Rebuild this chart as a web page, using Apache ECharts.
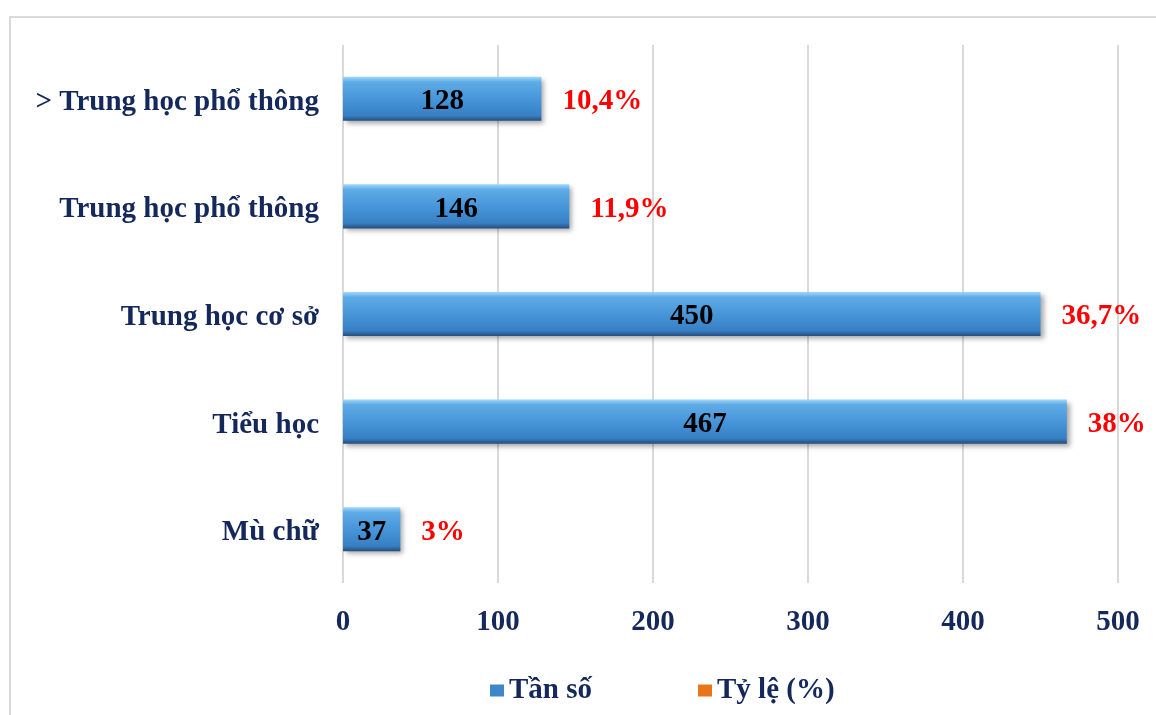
<!DOCTYPE html>
<html>
<head>
<meta charset="utf-8">
<script src="https://cdn.jsdelivr.net/npm/echarts@6/dist/echarts.min.js"></script>
<style>
  html, body { margin: 0; padding: 0; background: #fff; }
  #chart { width: 1156px; height: 715px; }
</style>
</head>
<body>
<div id="chart"></div>
<script>
// du lieu doc tu hinh goc (tu duoi len)
const categories = ['Mù chữ', 'Tiểu học', 'Trung học cơ sở', 'Trung học phổ thông', '> Trung học phổ thông']
const frequency = [37, 467, 450, 146, 128]
const percent = [3, 38, 36.7, 11.9, 10.4]
const xTicks = [0, 100, 200, 300, 400, 500]

const navy = '#14285c'
const serif = '"Liberation Serif", "Times New Roman", serif'
const fs = 29

const chart = echarts.init(document.getElementById('chart'))

const barColor = new echarts.graphic.LinearGradient(0, 0, 0, 1, [
  { offset: 0, color: '#9fd8fa' },
  { offset: 0.12, color: '#5fabe6' },
  { offset: 0.55, color: '#4593d8' },
  { offset: 0.88, color: '#387fc3' },
  { offset: 1, color: '#244d7b' }
])

const option = {
  animation: false,
  backgroundColor: '#fff',
  graphic: [{
    type: 'rect',
    shape: { x: 10, y: 17, width: 1200, height: 760 },
    style: { fill: 'none', stroke: '#d9d9d9', lineWidth: 2 }
  }],
  legend: {
    left: 485,
    top: 671,
    itemGap: 106,
    itemWidth: 14,
    itemHeight: 12,
    icon: 'rect',
    textStyle: { fontFamily: serif, fontWeight: 'bold', fontSize: fs, color: navy },
    data: [
      { name: 'Tần số', itemStyle: { color: '#3f87c9' } },
      { name: 'Tỷ lệ (%)', itemStyle: { color: '#e8751a' } }
    ]
  },
  grid: { left: 343, right: 38, top: 45, bottom: 132 },
  xAxis: {
    type: 'value',
    min: 0,
    max: xTicks[xTicks.length - 1],
    interval: 100,
    axisLine: { show: false },
    axisTick: { show: false },
    splitLine: { lineStyle: { color: '#d9d9d9', width: 2 } },
    axisLabel: {
      margin: 25,
      fontFamily: serif, fontWeight: 'bold', fontSize: fs, color: navy
    }
  },
  yAxis: {
    type: 'category',
    data: categories,
    axisLine: { show: false },
    axisTick: { show: false },
    axisLabel: {
      margin: 24,
      formatter: v => '{c|' + v + '}',
      rich: {
        c: {
          padding: [7, 0, 0, 0],
          fontFamily: serif, fontWeight: 'bold', fontSize: fs, color: navy
        }
      }
    }
  },
  series: [
    {
      name: 'Tần số',
      type: 'bar',
      data: frequency,
      barCategoryGap: '59%',
      barGap: '-100%',
      itemStyle: {
        color: barColor,
        shadowBlur: 5,
        shadowOffsetX: 3,
        shadowOffsetY: 3,
        shadowColor: 'rgba(0,0,0,0.35)'
      },
      label: {
        show: true,
        position: 'inside',
        offset: [0, 3],
        fontFamily: serif, fontWeight: 'bold', fontSize: fs, color: '#000'
      },
      z: 2
    },
    {
      // nhan ty le dat sau moi thanh, thanh trong suot
      name: 'Tỷ lệ (%)',
      type: 'bar',
      data: frequency,
      barCategoryGap: '59%',
      barGap: '-100%',
      itemStyle: { color: 'rgba(0,0,0,0)' },
      label: {
        show: true,
        position: 'right',
        distance: 21,
        offset: [0, 3],
        formatter: p => String(percent[p.dataIndex]).replace('.', ',') + '%',
        fontFamily: serif, fontWeight: 'bold', fontSize: fs, color: '#ff0000'
      },
      z: 3
    }
  ]
}

chart.setOption(option)
</script>
</body>
</html>
